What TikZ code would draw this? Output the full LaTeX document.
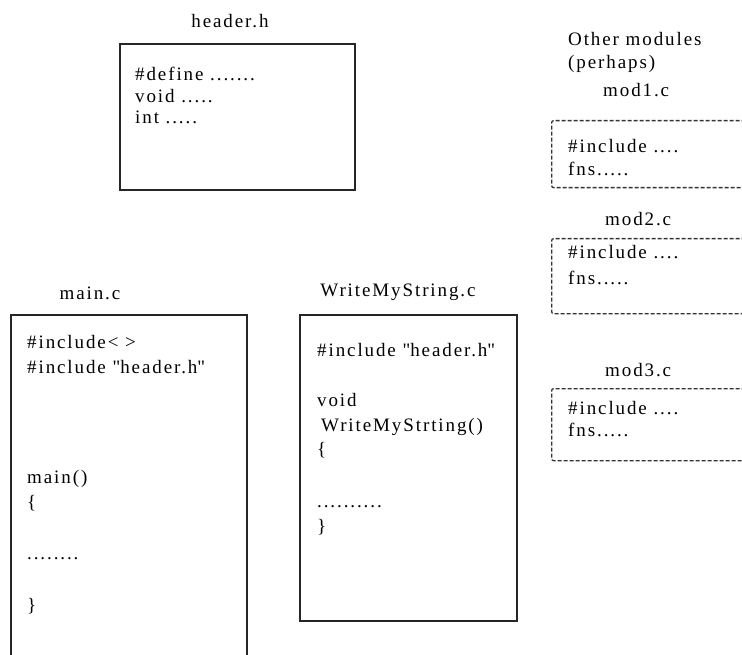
\documentclass[tikz,border=0pt]{standalone}
\usepackage{fontspec}
\setmainfont{Liberation Serif}[LetterSpace=10]
\tikzstyle{codebox}=[draw=black!85,line width=1.6pt,anchor=north west,inner sep=0pt]
\tikzstyle{modbox}=[draw=black!80,line width=1.3pt,dash pattern=on 4pt off 2pt,rounded corners=2pt,anchor=north west,inner sep=0pt]
\tikzstyle{code}=[anchor=base west,inner sep=0pt,font=\fontsize{19}{22}\selectfont]
\tikzstyle{title}=[anchor=base,inner sep=0pt,font=\fontsize{19}{22}\selectfont]
\newcommand{\dotrow}[1]{\ifcase#1\or.\or..\or...\or....\or.....\or......\or.......\or........\or.........\or..........\fi}
\newcommand{\qhdr}{\textquotedbl{}header.h\textquotedbl}

\begin{document}
\begin{tikzpicture}[x=1pt,y=-1pt]
  \useasboundingbox (0,0) rectangle (742,655);
  \clip (0,0) rectangle (742,655);

  % the source files
  \node[codebox,minimum width=235pt,minimum height=146pt] (hbox) at (119,43) {};
  \node[codebox,minimum width=236pt,minimum height=360pt] (mbox) at (10,314) {};
  \node[codebox,minimum width=217pt,minimum height=306pt] (wbox) at (299,314) {};

  % other modules, running off to the right
  \node[modbox,minimum width=220pt,minimum height=67pt] (mod1) at (551,120) {};
  \node[modbox,minimum width=220pt,minimum height=75pt] (mod2) at (551,238) {};
  \node[modbox,minimum width=220pt,minimum height=72pt] (mod3) at (551,388) {};

  \node[title] (htitle) at (230,28) {header.h};
  \node[title] (mtitle) at (90,299) {main.c};
  \node[title] (wtitle) at (398,296) {WriteMyString.c};

  \foreach \pos / \txt / \name in {{(568,46)/Other modules/om}, {(568,69)/(perhaps)/op},
                                   {(603,97)/mod1.c/t1}, {(605,226)/mod2.c/t2}, {(605,376)/mod3.c/t3}}
    \node[code] (\name) at \pos {\txt};

  % file contents
  \foreach \pos / \txt / \name in {{(135,81)/\#define \dotrow{7}/h1}, {(135,103)/void \dotrow{5}/h2},
                                   {(135,124)/int \dotrow{5}/h3}}
    \node[code] (\name) at \pos {\txt};

  \foreach \pos / \txt / \name in {{(27,348)/\#include< >/m1}, {(27,373)/\#include \qhdr/m2},
                                   {(27,483)/main()/m3}, {(27,508)/\{/m4},
                                   {(27,559)/\dotrow{8}/m5}, {(27,611)/\}/m6}}
    \node[code] (\name) at \pos {\txt};

  \foreach \pos / \txt / \name in {{(317,356)/\#include \qhdr/w1}, {(317,406)/void/w2},
                                   {(321,431)/WriteMyStrting()/w3}, {(317,455)/\{/w4},
                                   {(317,507)/\dotrow{10}/w5}, {(317,532)/\}/w6}}
    \node[code] (\name) at \pos {\txt};

  \foreach \pos / \txt / \name in {{(568,153)/\#include \dotrow{4}/a1}, {(568,176)/fns\dotrow{5}/a2},
                                   {(568,259)/\#include \dotrow{4}/b1}, {(568,284)/fns\dotrow{5}/b2},
                                   {(568,414)/\#include \dotrow{4}/c1}, {(568,436)/fns\dotrow{5}/c2}}
    \node[code] (\name) at \pos {\txt};
\end{tikzpicture}
\end{document}
